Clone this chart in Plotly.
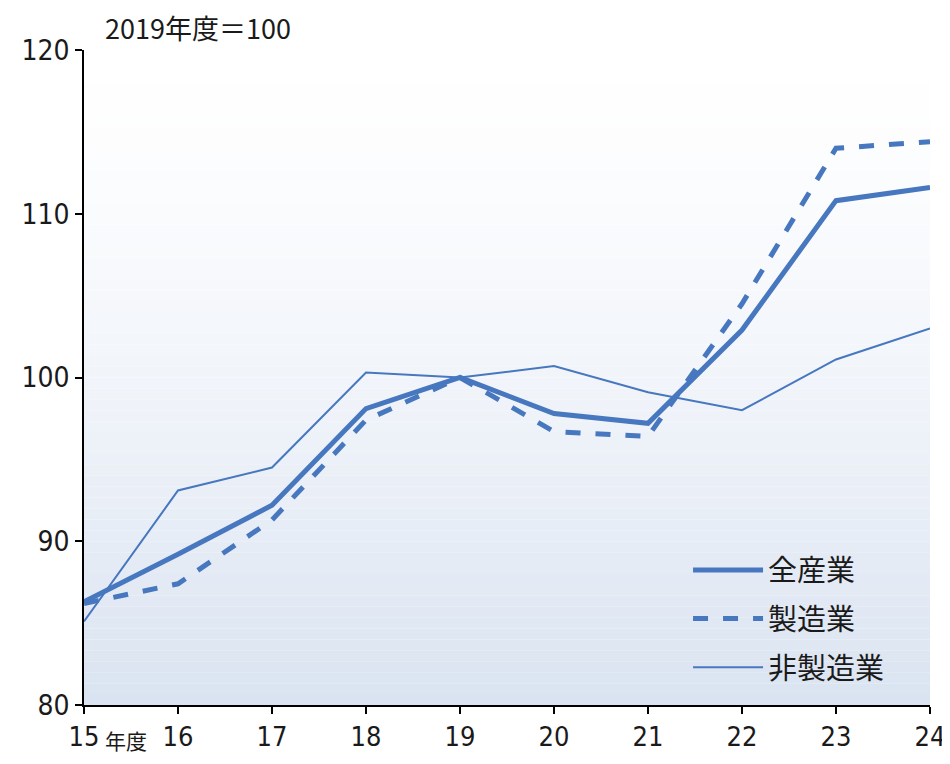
import plotly.graph_objects as go

years = [15, 16, 17, 18, 19, 20, 21, 22, 23, 24]
tick_labels = ["15", "16", "17", "18", "19", "20", "21", "22", "23", "24"]
y_ticks = [80, 90, 100, 110, 120]
all_industry = [86.3, 89.2, 92.2, 98.1, 100.0, 97.8, 97.2, 102.9, 110.8, 111.6]
manufacturing = [86.2, 87.4, 91.3, 97.4, 100.0, 96.7, 96.4, 104.5, 114.0, 114.4]
non_manufacturing = [85.1, 93.1, 94.5, 100.3, 100.0, 100.7, 99.1, 98.0, 101.1, 103.0]

color = "#4677BF"
num_font = "Liberation Sans Narrow, DejaVu Sans Condensed, Noto Sans CJK JP"
cjk_font = "Noto Sans CJK JP"

fig = go.Figure()

# gradient background (white at top -> pale blue at bottom)
n = 60
top_rgb = (255, 255, 255)
bot_rgb = (218, 227, 241)
shapes = []
for i in range(n):
    t = ((i + 0.5) / n) ** 1.4
    r = round(top_rgb[0] + (bot_rgb[0] - top_rgb[0]) * t)
    g = round(top_rgb[1] + (bot_rgb[1] - top_rgb[1]) * t)
    b = round(top_rgb[2] + (bot_rgb[2] - top_rgb[2]) * t)
    shapes.append(dict(type="rect", xref="x domain", yref="y domain",
                       x0=0, x1=1, y0=1 - (i + 1) / n, y1=1 - i / n,
                       fillcolor=f"rgb({r},{g},{b})", line=dict(width=0),
                       layer="below"))

fig.add_trace(go.Scatter(x=years, y=all_industry, mode="lines", name="全産業",
                         legendgroup="a", line=dict(color=color, width=5)))
fig.add_trace(go.Scatter(x=years, y=manufacturing, mode="lines", name="製造業",
                         legendgroup="b", line=dict(color=color, width=5, dash="dash")))
fig.add_trace(go.Scatter(x=years, y=non_manufacturing, mode="lines", name="非製造業",
                         legendgroup="c", line=dict(color=color, width=2)))

fig.update_layout(
    width=942, height=748,
    margin=dict(l=76, r=20, t=42, b=51, autoexpand=False),
    paper_bgcolor="white", plot_bgcolor="white",
    font=dict(family=cjk_font, size=24, color="#1a1a1a"),
    shapes=shapes,
    showlegend=True,
    legend=dict(x=0.714, y=0.245, xanchor="left", yanchor="top",
                bgcolor="rgba(0,0,0,0)", font=dict(size=29, family=cjk_font),
                itemwidth=70, tracegroupgap=8),
    xaxis=dict(range=[15, 24], tickvals=years, ticktext=tick_labels,
               showgrid=False, zeroline=False, showline=True, automargin=False,
               ticklabeloverflow="allow",
               linecolor="black", linewidth=1.5, ticks="outside",
               ticklen=7, tickcolor="black", tickwidth=1.5,
               tickfont=dict(size=27, family=num_font)),
    yaxis=dict(range=[80, 120], tickvals=y_ticks,
               showgrid=False, zeroline=False, showline=True, automargin=False,
               ticklabeloverflow="allow",
               linecolor="black", linewidth=1.5, ticks="outside",
               ticklen=7, tickcolor="black", tickwidth=1.5,
               tickfont=dict(size=28, family=num_font)),
    annotations=[
        dict(text="2019年度＝100", xref="paper", yref="paper", x=0.0225, y=1.0,
             xanchor="left", yanchor="middle", showarrow=False,
             font=dict(size=27, family=cjk_font), yshift=23),
        dict(text="年度", xref="paper", yref="paper", x=0.0225, y=0,
             xanchor="left", yanchor="top", showarrow=False,
             font=dict(size=21, family=cjk_font), yshift=-18),
    ],
)

fig.write_html("out.html")
